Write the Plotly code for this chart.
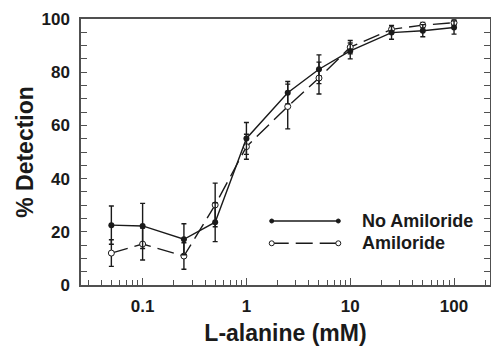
import plotly.graph_objects as go
import math

conc = [0.05, 0.1, 0.25, 0.5, 1, 2.5, 5, 10, 25, 50, 100]
no_amil = [22.5, 22.2, 17.2, 23.6, 55.1, 72.3, 81.1, 88.0, 94.9, 95.6, 96.8]
no_amil_err = [7.2, 8.5, 5.8, 7.3, 6.0, 4.2, 5.4, 3.0, 2.5, 2.3, 2.5]
amil = [12.0, 15.4, 10.9, 30.1, 52.0, 67.1, 77.8, 89.4, 96.1, 97.7, 98.6]
amil_err = [5.0, 6.0, 5.0, 8.2, 4.7, 8.4, 6.0, 2.5, 1.5, 1.0, 1.0]

major_x = [0.1, 1, 10, 100]
major_x_text = ["0.1", "1", "10", "100"]
minor_x = [m * 10 ** e for e in range(-2, 3) for m in range(2, 10)]
minor_x = [v for v in minor_x if 0.0255 <= v <= 222]

FONT = "Liberation Sans, Arial, Helvetica, sans-serif"
INK = "#1a1a1a"
AX = "#505050"

fig = go.Figure()
fig.add_trace(go.Scatter(
    x=conc, y=amil, mode="lines+markers", name="Amiloride",
    line=dict(color=INK, width=1.4, dash="17px,7px"),
    marker=dict(symbol="circle", size=6, color="white", line=dict(color=INK, width=1)),
    error_y=dict(type="data", array=amil_err, color=INK, thickness=1.4, width=2.5),
))
fig.add_trace(go.Scatter(
    x=conc, y=no_amil, mode="lines+markers", name="No Amiloride",
    line=dict(color=INK, width=1.4),
    marker=dict(symbol="circle", size=6, color=INK),
    error_y=dict(type="data", array=no_amil_err, color=INK, thickness=1.4, width=2.5),
))

# manual legend (paper coordinates)
lx0, lx1, tx = 0.4663, 0.6291, 0.6822
ly_no, ly_am = 0.2406, 0.1568
fig.add_shape(type="line", xref="paper", yref="paper", x0=lx0, x1=lx1, y0=ly_no, y1=ly_no,
              line=dict(color=INK, width=1.4))
fig.add_shape(type="line", xref="paper", yref="paper", x0=lx0, x1=lx1, y0=ly_am, y1=ly_am,
              line=dict(color=INK, width=1.4, dash="17px,7px"))
for xx in (lx0, lx1):
    fig.add_shape(type="circle", xref="paper", yref="paper", xsizemode="pixel", ysizemode="pixel",
                  xanchor=xx, yanchor=ly_no, x0=-2, x1=2, y0=-2, y1=2,
                  fillcolor=INK, line=dict(color=INK, width=1))
    fig.add_shape(type="circle", xref="paper", yref="paper", xsizemode="pixel", ysizemode="pixel",
                  xanchor=xx, yanchor=ly_am, x0=-2.5, x1=2.5, y0=-2.5, y1=2.5,
                  fillcolor="white", line=dict(color=INK, width=1))
for yy, txt in ((ly_no, "No Amiloride"), (ly_am, "Amiloride")):
    fig.add_annotation(xref="paper", yref="paper", x=tx, y=yy, text=txt, showarrow=False,
                       xanchor="left", yanchor="middle",
                       font=dict(family=FONT, size=18, color=INK, weight="bold"))

fig.update_layout(
    width=491, height=346,
    margin=dict(l=81, r=1, t=19, b=61, autoexpand=False),
    paper_bgcolor="white", plot_bgcolor="white",
    showlegend=False,
    font=dict(family=FONT, color=INK, weight="bold"),
)
fig.update_xaxes(
    type="log", range=[math.log10(0.0255), math.log10(222)],
    tickvals=major_x, ticktext=major_x_text,
    ticks="inside", ticklen=7, tickwidth=1.2, tickcolor=AX,
    minor=dict(tickvals=minor_x, ticks="inside", ticklen=5, tickwidth=1.2, tickcolor=AX),
    showline=True, linecolor=AX, linewidth=1.5, mirror=True,
    showgrid=False, zeroline=False, automargin=False,
    tickfont=dict(family=FONT, size=17, color=INK, weight="bold"),
    ticklabelstandoff=5,
    title=dict(text="L-alanine (mM)", font=dict(family=FONT, size=23, color=INK, weight="bold"), standoff=17),
)
fig.update_yaxes(
    range=[0, 100], dtick=20,
    ticks="inside", ticklen=6, tickwidth=1.2, tickcolor=AX,
    minor=dict(dtick=5, ticks="inside", ticklen=6, tickwidth=1.2, tickcolor=AX),
    showline=True, linecolor=AX, linewidth=1.5, mirror="ticks",
    showgrid=False, zeroline=False, automargin=False,
    tickfont=dict(family=FONT, size=17, color=INK, weight="bold"),
    ticklabelstandoff=6,
    title=dict(text="% Detection", font=dict(family=FONT, size=23, color=INK, weight="bold"), standoff=1),
)

fig.write_html("out.html", config={"displayModeBar": False},
               post_script="document.body.style.margin='0';document.body.style.overflow='hidden';")
